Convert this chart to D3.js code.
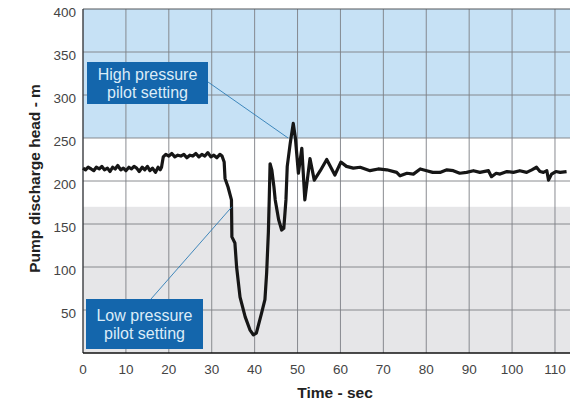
<!DOCTYPE html>
<html>
<head>
<meta charset="utf-8">
<script src="https://cdn.jsdelivr.net/npm/d3@7"></script>
<style>
  body { margin: 0; background: #fff; }
  svg { display: block; font-family: "Liberation Sans", Arial, sans-serif; }
</style>
</head>
<body>
<div id="chart"></div>
<script>
// time (sec) and pump discharge head (m)
const times = [0, 0.6, 1.2, 1.9, 2.5, 3.1, 3.8, 4.4, 5.0, 5.7, 6.3, 6.9, 7.5, 8.1, 8.8, 9.4, 10.0, 10.7, 11.3, 11.9, 12.5, 13.1, 13.8, 14.4, 15.0, 15.6, 16.2, 16.9, 17.5, 18.0, 18.3,
  18.7, 19.3, 20.0, 20.7, 21.4, 22.1, 22.8, 23.5, 24.2, 24.9, 25.6, 26.3, 27.0, 27.7, 28.4, 29.1, 29.8, 30.5, 31.2, 31.9, 32.4,
  32.9, 33.1, 33.8, 34.6, 34.7, 35.4, 35.8, 36.6, 37.8, 38.9, 39.7, 40.4, 41.6, 42.4, 42.8, 43.2, 43.4, 43.6,
  44.0, 44.5, 44.8, 45.6, 46.3, 46.8, 47.3, 47.6, 48.3, 49.0, 49.5, 50.2, 51.0, 51.7, 52.9, 53.9, 55.3, 56.8,
  58.7, 60.1, 61.4, 63.0, 64.6, 66.9, 68.8, 70.8, 73.1, 73.9, 75.5, 77.0,
  78.6, 80.1, 81.5, 83.2, 84.8, 86.3, 87.8, 89.4, 91, 92.5, 94.5, 95.2, 96.3, 97.2, 98.8, 100.3, 101.8, 103.4,
  104.6, 105.7, 106.5, 107.3, 108.1, 108.5, 109.2, 110.2, 111.2, 112.7];
const heads = [215, 213, 216, 214, 212, 216, 214, 217, 213, 215, 211, 216, 214, 218, 213, 215, 212, 216, 214, 217, 215, 211, 216, 213, 217, 212, 215, 210, 216, 213, 216,
  228, 231, 229, 232, 228, 230, 229, 231, 227, 230, 229, 232, 228, 231, 229, 233, 228, 230, 227, 231, 229,
  222, 203, 193, 178, 135, 128, 100, 65, 42, 27, 21, 23, 46, 62, 93, 140, 178, 220,
  213, 193, 178, 155, 143, 145, 178, 217, 244, 267, 250, 209, 238, 178, 226, 201, 212, 225,
  207, 222, 217, 215, 216, 212, 214, 213, 210, 206, 209, 208,
  214, 212, 210, 210, 213, 212, 209, 210, 212, 210, 212, 205, 209, 208, 211, 210, 212, 210,
  213, 216, 211, 210, 212, 201, 208, 211, 210, 211];

const xTicks = [0, 10, 20, 30, 40, 50, 60, 70, 80, 90, 100, 110];
const yTicks = [50, 100, 150, 200, 250, 300, 350, 400];

// pilot setting bands
const highPilot = 250;
const lowPilot = 170;

const width = 570, height = 404;
const x = d3.scaleLinear().domain([0, 113.5]).range([83, 570]);
const y = d3.scaleLinear().domain([0, 400]).range([353, 9]);

const svg = d3.select("#chart").append("svg")
  .attr("width", width)
  .attr("height", height);

// bands
svg.append("rect")
  .attr("x", x(0)).attr("y", y(400))
  .attr("width", x(113.5) - x(0)).attr("height", y(highPilot) - y(400))
  .attr("fill", "#c6e1f5");
svg.append("rect")
  .attr("x", x(0)).attr("y", y(lowPilot))
  .attr("width", x(113.5) - x(0)).attr("height", y(0) - y(lowPilot))
  .attr("fill", "#e6e6e8");

// grid
svg.append("g")
  .selectAll("line")
  .data(xTicks.filter(d => d > 0))
  .join("line")
  .attr("x1", d => x(d)).attr("x2", d => x(d))
  .attr("y1", y(400)).attr("y2", y(0))
  .attr("stroke", "#7d7f84").attr("stroke-width", 0.9);
svg.append("g")
  .selectAll("line")
  .data(yTicks.filter(d => d < 400))
  .join("line")
  .attr("x1", x(0)).attr("x2", x(113.5))
  .attr("y1", d => y(d)).attr("y2", d => y(d))
  .attr("stroke", "#7d7f84").attr("stroke-width", 0.9);

// frame
svg.append("line")
  .attr("x1", x(0)).attr("x2", x(113.5)).attr("y1", y(400)).attr("y2", y(400))
  .attr("stroke", "#55585c").attr("stroke-width", 1.2);
svg.append("line")
  .attr("x1", x(0)).attr("x2", x(0)).attr("y1", y(400)).attr("y2", y(0))
  .attr("stroke", "#3a3c40").attr("stroke-width", 1.4);
svg.append("line")
  .attr("x1", x(0)).attr("x2", x(113.5)).attr("y1", y(0)).attr("y2", y(0))
  .attr("stroke", "#111").attr("stroke-width", 1.6);

// tick labels
svg.append("g")
  .selectAll("text")
  .data(yTicks)
  .join("text")
  .attr("x", 76)
  .attr("y", d => y(d) + 8)
  .attr("text-anchor", "end")
  .attr("font-size", 13.5)
  .attr("fill", "#444")
  .text(d => d);
svg.append("g")
  .selectAll("text")
  .data(xTicks)
  .join("text")
  .attr("x", d => x(d))
  .attr("y", 374)
  .attr("text-anchor", "middle")
  .attr("font-size", 13.5)
  .attr("fill", "#444")
  .text(d => d);

// axis titles
svg.append("text")
  .attr("transform", `translate(40,${y(203)}) rotate(-90)`)
  .attr("text-anchor", "middle")
  .attr("font-size", 15.5)
  .attr("font-weight", "bold")
  .attr("fill", "#222")
  .text("Pump discharge head - m");
svg.append("text")
  .attr("x", 335)
  .attr("y", 398)
  .attr("text-anchor", "middle")
  .attr("font-size", 15.5)
  .attr("font-weight", "bold")
  .attr("fill", "#222")
  .text("Time - sec");

// trace
const line = d3.line()
  .x((d, i) => x(times[i]))
  .y(d => y(d));
svg.append("path")
  .datum(heads)
  .attr("d", line)
  .attr("fill", "none")
  .attr("stroke", "#161616")
  .attr("stroke-width", 3.2)
  .attr("stroke-linejoin", "round");

// annotations
const notes = [
  { lines: ["High pressure", "pilot setting"], box: [87, 62, 121, 42], from: [208, 82], to: [47.8, highPilot] },
  { lines: ["Low pressure", "pilot setting"], box: [86, 299, 117, 50], from: [151, 299], to: [34.7, lowPilot] }
];
notes.forEach(n => {
  svg.append("line")
    .attr("x1", n.from[0]).attr("y1", n.from[1])
    .attr("x2", x(n.to[0])).attr("y2", y(n.to[1]))
    .attr("stroke", "#2f7db5").attr("stroke-width", 0.9);
  svg.append("rect")
    .attr("x", n.box[0]).attr("y", n.box[1])
    .attr("width", n.box[2]).attr("height", n.box[3])
    .attr("fill", "#1466ac");
  const cx = n.box[0] + n.box[2] / 2;
  const cy = n.box[1] + n.box[3] / 2;
  n.lines.forEach((t, i) => {
    svg.append("text")
      .attr("x", cx)
      .attr("y", cy + (i - 0.5) * 18 + 5.5)
      .attr("text-anchor", "middle")
      .attr("font-size", 16)
      .attr("fill", "#dcecf8")
      .text(t);
  });
});
</script>
</body>
</html>
